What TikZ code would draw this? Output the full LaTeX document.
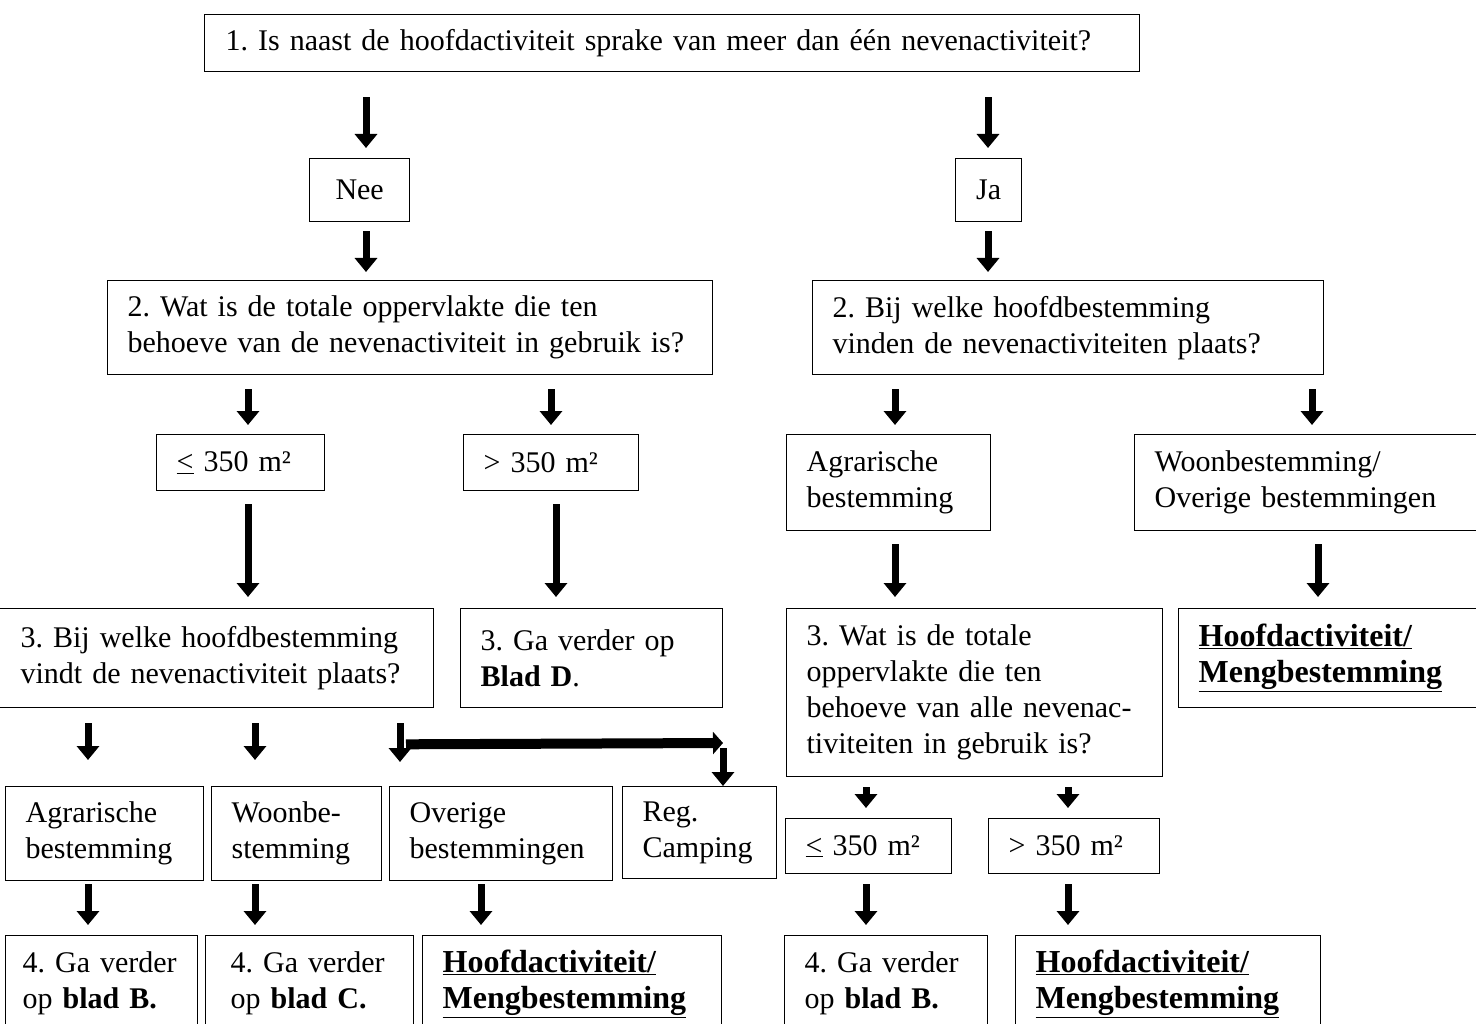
\documentclass[tikz,border=0pt]{standalone}
\usepackage{fontspec}
\setmainfont{Liberation Serif}
\usetikzlibrary{arrows.meta,calc}
\tikzset{
  bx/.style={draw, line width=1.3pt, anchor=north west, align=left,
    inner xsep=20pt, inner ysep=0pt, font=\fontsize{30}{36}\selectfont\frenchspacing},
  arr/.style={line width=7pt, -{Triangle[width=22pt,length=14pt]}},
}
\newcommand\varrow[5]{\draw[arr] ($(#1.south -| #3,0)+(0,#4)$) -- ($(#2.north -| #3,0)+(0,-#5)$);}
\newcommand\hoofdtxt{\fontsize{32}{36}\selectfont\bfseries\mbox{\underline{Hoofdactiviteit/}}\\\mbox{\underline{Mengbestemming}}}
\begin{document}
\begin{tikzpicture}[x=1pt,y=-1pt]
\path[use as bounding box, fill=white] (0,0) rectangle (1476,1024);
\clip (0,0) rectangle (1476,1024);
% row 1
\node[bx, minimum width=935pt, minimum height=57pt, text width=893pt] (top) at (204,14)
  {\mbox{1. Is naast de hoofdactiviteit sprake van meer dan één nevenactiviteit?}};
\node[bx, align=center, minimum width=100pt, minimum height=63pt] (nee) at (309,158) {Nee};
\node[bx, align=center, inner xsep=8pt, minimum width=66pt, minimum height=63pt] (ja) at (955,158) {Ja};
% row 2
\node[bx, minimum width=605pt, minimum height=94pt, text width=565pt] (b2L) at (107,280)
  {\mbox{2. Wat is de totale oppervlakte die ten}\\\mbox{behoeve van de nevenactiviteit in gebruik is?}};
\node[bx, minimum width=511pt, minimum height=94pt, text width=471pt] (b2R) at (812,280)
  {\mbox{2. Bij welke hoofdbestemming}\\\mbox{vinden de nevenactiviteiten plaats?}};
% row 3
\node[bx, minimum width=168pt, minimum height=56pt, text width=128pt] (le1) at (156,434) {\mbox{\underline{<} 350 m²}};
\node[bx, minimum width=175pt, minimum height=56pt, text width=135pt] (gt1) at (463,434) {\mbox{> 350 m²}};
\node[bx, minimum width=204pt, minimum height=96pt, text width=164pt] (agr1) at (786,434) {Agrarische\\bestemming};
\node[bx, minimum width=360pt, minimum height=96pt, text width=320pt] (woon1) at (1134,434) {Woonbestemming/\\\mbox{Overige bestemmingen}};
% row 4
\node[bx, minimum width=443pt, minimum height=99pt, inner xsep=30pt, text width=383pt] (b3L) at (-10,608)
  {\mbox{3. Bij welke hoofdbestemming}\\\mbox{vindt de nevenactiviteit plaats?}};
\node[bx, minimum width=262pt, minimum height=99pt, text width=222pt] (b3D) at (460,608)
  {\mbox{3. Ga verder op}\\\textbf{Blad D}.};
\node[bx, minimum width=376pt, minimum height=168pt, text width=336pt] (b3R) at (786,608)
  {\mbox{3. Wat is de totale}\\\mbox{oppervlakte die ten}\\\mbox{behoeve van alle nevenac-}\\\mbox{tiviteiten in gebruik is?}};
\node[bx, minimum width=330pt, minimum height=99pt, text width=290pt] (hoofdR) at (1178,608) {\hoofdtxt};
% row 5
\node[bx, minimum width=198pt, minimum height=94pt, text width=158pt] (agr2) at (5,786) {Agrarische\\bestemming};
\node[bx, minimum width=170pt, minimum height=94pt, text width=130pt] (woon2) at (211,786) {Woonbe-\\stemming};
\node[bx, minimum width=223pt, minimum height=94pt, text width=183pt] (over2) at (389,786) {Overige\\bestemmingen};
\node[bx, minimum width=154pt, minimum height=92pt, text width=114pt] (reg2) at (622,786) {Reg.\\Camping};
\node[bx, minimum width=166pt, minimum height=55pt, text width=126pt] (le2) at (785,818) {\mbox{\underline{<} 350 m²}};
\node[bx, minimum width=171pt, minimum height=55pt, text width=131pt] (gt2) at (988,818) {\mbox{> 350 m²}};
% row 6
\node[bx, minimum width=192pt, minimum height=96pt, inner xsep=17pt, text width=158pt] (g4a) at (5,935) {\mbox{4. Ga verder}\\\mbox{op \textbf{blad B.}}};
\node[bx, minimum width=208pt, minimum height=96pt, inner xsep=25pt, text width=158pt] (g4b) at (205,935) {\mbox{4. Ga verder}\\\mbox{op \textbf{blad C.}}};
\node[bx, minimum width=299pt, minimum height=96pt, text width=259pt] (hoofd4) at (422,935) {\hoofdtxt};
\node[bx, minimum width=203pt, minimum height=96pt, text width=163pt] (g4r) at (784,935) {\mbox{4. Ga verder}\\\mbox{op \textbf{blad B.}}};
\node[bx, minimum width=305pt, minimum height=96pt, text width=265pt] (hoofd4r) at (1015,935) {\hoofdtxt};
% arrows
\varrow{top}{nee}{366}{25}{10}
\varrow{nee}{b2L}{366}{9}{8}
\varrow{top}{ja}{988}{25}{10}
\varrow{ja}{b2R}{988}{9}{8}
\varrow{b2L}{le1}{248}{14}{9}
\varrow{b2L}{gt1}{551}{14}{9}
\varrow{le1}{b3L}{248}{13}{11}
\varrow{gt1}{b3D}{556}{13}{11}
\varrow{b2R}{agr1}{895}{14}{9}
\varrow{b2R}{woon1}{1312}{14}{9}
\varrow{agr1}{b3R}{895}{13}{11}
\varrow{woon1}{hoofdR}{1318}{13}{11}
\varrow{b3L}{agr2}{88}{15}{26}
\varrow{b3L}{woon2}{255}{15}{26}
\varrow{b3L}{over2}{400}{15}{24}
\coordinate (split) at ($(b3L.south -| 406,0)+(0,36)$);
\coordinate (turn) at ($(reg2.north -| 723,0)+(0,-43)$);
\draw[line width=10pt, -{Triangle[width=22pt,length=10pt]}] (split) -- (turn);
\draw[arr] ($(turn)+(0,5)$) -- (reg2.north -| turn);
\varrow{agr2}{g4a}{88}{3}{10}
\varrow{woon2}{g4b}{255}{3}{10}
\varrow{over2}{hoofd4}{481}{3}{10}
\varrow{b3R}{le2}{866}{10}{10}
\varrow{b3R}{gt2}{1068}{10}{10}
\varrow{le2}{g4r}{866}{10}{10}
\varrow{gt2}{hoofd4r}{1068}{10}{10}
\end{tikzpicture}
\end{document}
